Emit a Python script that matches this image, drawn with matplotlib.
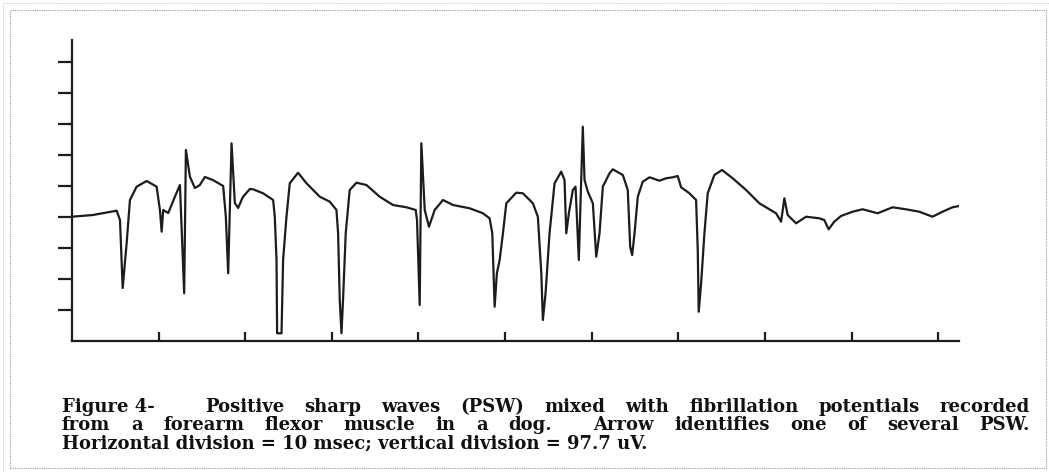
import matplotlib
matplotlib.use("Agg")
import numpy as np
from matplotlib import pyplot as plt
from matplotlib.patches import Rectangle
from matplotlib.lines import Line2D

# EMG trace: time (msec) and amplitude above the x axis (uV)
t_ms = np.array([
    0.0, 2.42, 5.16, 5.54, 5.85, 6.31, 6.69, 7.46, 8.62, 9.77,
    10.15, 10.35, 10.53, 11.11, 11.88, 12.46, 12.95, 13.15, 13.61, 14.19,
    14.76, 15.34, 16.26, 17.45, 17.76, 18.03, 18.42, 18.80, 19.18, 19.72,
    20.53, 20.91, 22.06, 23.22, 23.41, 23.61, 23.68, 24.19, 24.37, 24.76,
    25.14, 26.10, 27.07, 28.60, 29.76, 30.53, 30.72, 30.91, 31.11, 31.29,
    31.60, 32.06, 32.84, 33.99, 35.52, 37.06, 38.60, 39.68, 39.83, 40.14,
    40.33, 40.72, 41.21, 41.87, 42.83, 43.98, 45.91, 47.44, 48.21, 48.52,
    48.79, 49.05, 49.37, 49.75, 50.14, 51.29, 52.05, 53.21, 53.78, 54.18,
    54.36, 54.67, 55.13, 55.71, 56.48, 56.86, 57.06, 57.36, 57.82, 58.13,
    58.51, 58.97, 59.17, 59.55, 60.13, 60.52, 60.90, 61.28, 62.05, 62.43,
    63.59, 64.16, 64.44, 64.67, 64.94, 65.32, 65.89, 66.67, 67.82, 68.59,
    69.35, 69.93, 70.32, 71.28, 72.05, 72.24, 72.35, 72.63, 73.01, 73.39,
    74.16, 75.05, 76.27, 77.82, 79.35, 81.28, 81.86, 82.24, 82.62, 83.59,
    84.74, 86.27, 86.85, 87.35, 88.00, 88.78, 90.12, 91.27, 93.00, 94.73,
    96.27, 97.81, 99.34, 100.50, 101.65, 102.42,
])
amp_uv = np.array([
    391.7, 397.1, 410.7, 381.3, 167.0, 308.9, 444.4, 486.3, 504.3, 486.3,
    412.9, 344.5, 412.9, 403.4, 454.8, 491.6, 150.3, 602.0, 517.8, 482.2,
    491.6, 516.9, 507.4, 488.5, 391.7, 213.4, 623.1, 434.9, 419.2, 453.8,
    479.0, 478.1, 465.5, 444.4, 391.7, 255.3, 24.3, 24.3, 255.3, 391.7,
    497.0, 530.4, 497.0, 454.8, 439.0, 412.9, 339.4, 129.2, 24.3, 129.2,
    339.4, 475.9, 498.9, 491.6, 454.8, 428.6, 421.4, 412.9, 381.3, 113.5,
    623.1, 412.9, 360.2, 412.9, 444.4, 428.6, 418.2, 402.5, 386.7, 339.4,
    108.1, 213.4, 255.3, 339.4, 434.0, 467.4, 465.5, 434.0, 391.7, 213.4,
    66.2, 150.3, 339.4, 497.0, 533.6, 507.4, 339.4, 402.5, 475.9, 486.3,
    255.3, 675.4, 507.4, 470.5, 434.0, 265.7, 339.4, 486.3, 528.5, 541.1,
    523.2, 475.9, 297.2, 271.0, 339.4, 454.8, 502.1, 515.9, 505.2, 512.8,
    515.9, 520.0, 484.4, 465.5, 444.4, 286.8, 92.3, 181.8, 339.4, 465.5,
    523.2, 538.9, 512.8, 475.9, 434.0, 402.5, 376.0, 449.7, 397.1, 370.9,
    391.7, 386.7, 381.3, 352.0, 376.0, 394.0, 407.5, 415.1, 402.5, 421.4,
    415.1, 407.5, 391.7, 407.5, 421.4, 425.5,
])

h_division_ms = 10.0
v_division_uv = 97.7
x_ticks = np.arange(1, 11) * h_division_ms
y_ticks = np.arange(1, 10) * v_division_uv

caption_head = "Figure 4-"
caption_line1 = "Positive sharp waves (PSW) mixed with fibrillation potentials recorded"
caption_line2 = "from a forearm flexor muscle in a dog.  Arrow identifies one of several PSW."
caption_line3 = "Horizontal division = 10 msec; vertical division = 97.7 uV."

W, H = 1049, 472
ink = "#1c1c1c"

fig = plt.figure(figsize=(W / 100, H / 100), dpi=100)
fig.patch.set_facecolor("white")

ax = fig.add_axes([72 / W, 1 - 341 / H, (959 - 72) / W, (341 - 40) / H])
ax.plot(t_ms, amp_uv, color=ink, lw=1.6, solid_joinstyle="round")
ax.set_xlim(0, 102.4)
ax.set_ylim(0, 948.6)
for side in ["top", "right"]:
    ax.spines[side].set_visible(False)
for side in ["left", "bottom"]:
    ax.spines[side].set_linewidth(1.6)
    ax.spines[side].set_color(ink)
ax.set_xticks(x_ticks)
ax.set_yticks(y_ticks)
ax.tick_params(axis="x", direction="in", length=6.5, width=1.6, color=ink,
               labelbottom=False)
ax.tick_params(axis="y", direction="out", length=10, width=1.6, color=ink,
               labelleft=False)

# dotted page frame around the figure
fig.patches.append(Rectangle((10 / W, 1 - 468 / H), (1046 - 10) / W, (468 - 10) / H,
                             transform=fig.transFigure, fill=False,
                             ec="#9a9a9a", lw=0.8, ls=(0, (1, 1))))
fig.lines.append(Line2D([3 / W, 3 / W], [0, 1 - 3 / H], transform=fig.transFigure,
                        color="#c8c8c8", lw=0.7, ls=(0, (1, 1))))
fig.lines.append(Line2D([3 / W, 1], [1 - 3 / H, 1 - 3 / H], transform=fig.transFigure,
                        color="#c8c8c8", lw=0.7, ls=(0, (1, 1))))

cap_style = dict(family="DejaVu Serif", weight="bold", size=13, color="#111111",
                 va="baseline", ha="left")

fig.canvas.draw()
renderer = fig.canvas.get_renderer()


def word_width(word):
    t = fig.text(0, 0, word, **cap_style)
    w = t.get_window_extent(renderer).width
    t.remove()
    return w


def justify(line, x0, x1, y):
    words = line.split()
    widths = [word_width(w) for w in words]
    weights = [2 if w.endswith(".") else 1 for w in words[:-1]]
    unit = (x1 - x0 - sum(widths)) / sum(weights)
    x = x0
    for i, w in enumerate(words):
        fig.text(x / W, 1 - y / H, w, **cap_style)
        if i < len(weights):
            x += widths[i] + unit * weights[i]


fig.text(62 / W, 1 - 412 / H, caption_head, **cap_style)
justify(caption_line1, 205, 1030, 412)
justify(caption_line2, 62, 1030, 430)
fig.text(62 / W, 1 - 448 / H, caption_line3, **cap_style)

fig.savefig("out.png", dpi=100)
